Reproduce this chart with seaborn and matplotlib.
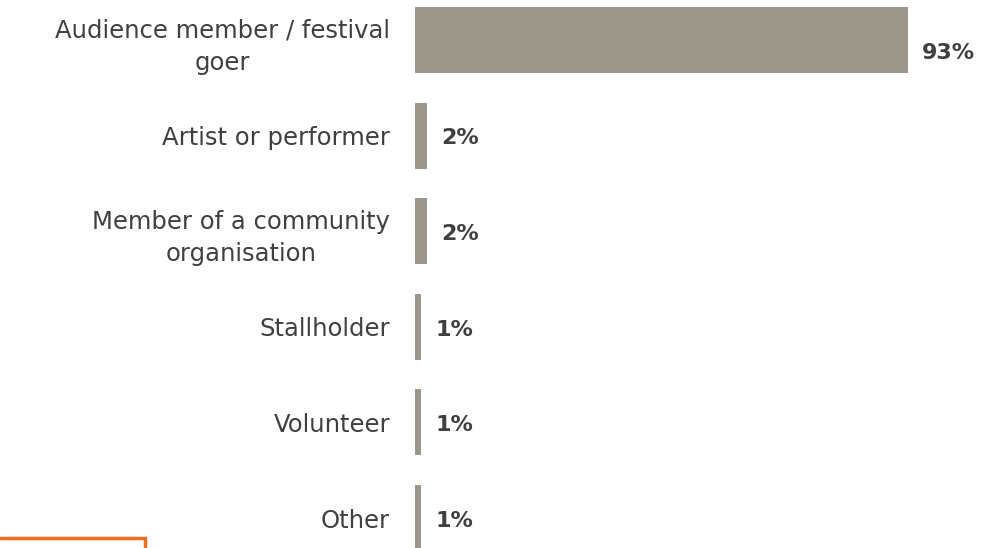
import matplotlib
matplotlib.use("Agg")
import matplotlib.pyplot as plt
import seaborn as sns
import pandas as pd
from matplotlib.lines import Line2D

# Dados do gráfico
categorias = [
    "Audience member / festival\ngoer",
    "Artist or performer",
    "Member of a community\norganisation",
    "Stallholder",
    "Volunteer",
    "Other",
]
percentuais = [93, 2.3, 2.3, 1.2, 1.2, 1.2]
rotulos = ["93%", "2%", "2%", "1%", "1%", "1%"]

df = pd.DataFrame({"categoria": categorias, "pct": percentuais})

sns.set_theme(style="white")
plt.rcParams["font.family"] = ["DejaVu Sans"]

fig = plt.figure(figsize=(9.96, 5.48), dpi=100)
# eixo ocupa de x=415px a 945px; categorias com passo ~95.6px
ax = fig.add_axes([415 / 996, -0.0325, 530 / 996, 1.0465])

sns.barplot(data=df, x="pct", y="categoria", color="#9a9689", width=0.69,
            saturation=1, linewidth=0, ax=ax, orient="h")

ax.set_xlim(0, 100)
ax.set_ylim(len(categorias) - 0.5, -0.5)
ax.set_xlabel("")
ax.set_ylabel("")
ax.set_xticks([])
sns.despine(ax=ax, left=True, bottom=True)
ax.tick_params(axis="y", length=0, pad=18)
for lbl in ax.get_yticklabels():
    lbl.set_fontsize(17.5)
    lbl.set_color("#404040")
    lbl.set_multialignment("center")
    lbl.set_linespacing(1.42)

for i, (v, r) in enumerate(zip(percentuais, rotulos)):
    # o rótulo da barra maior fica um pouco abaixo do centro, como no original
    dy = -9 if i == 0 else -2
    ax.annotate(r, xy=(v, i), xytext=(10, dy), textcoords="offset points",
                va="center", ha="left", fontsize=16, fontweight="bold",
                color="#404040")

# linha laranja decorativa no canto inferior esquerdo
fig.add_artist(Line2D([0, 145 / 996, 145 / 996], [1 - 538 / 548, 1 - 538 / 548, 0],
                      transform=fig.transFigure, color="#f26d21", lw=2.5,
                      solid_joinstyle="miter"))

fig.savefig("out.png", dpi=100)
